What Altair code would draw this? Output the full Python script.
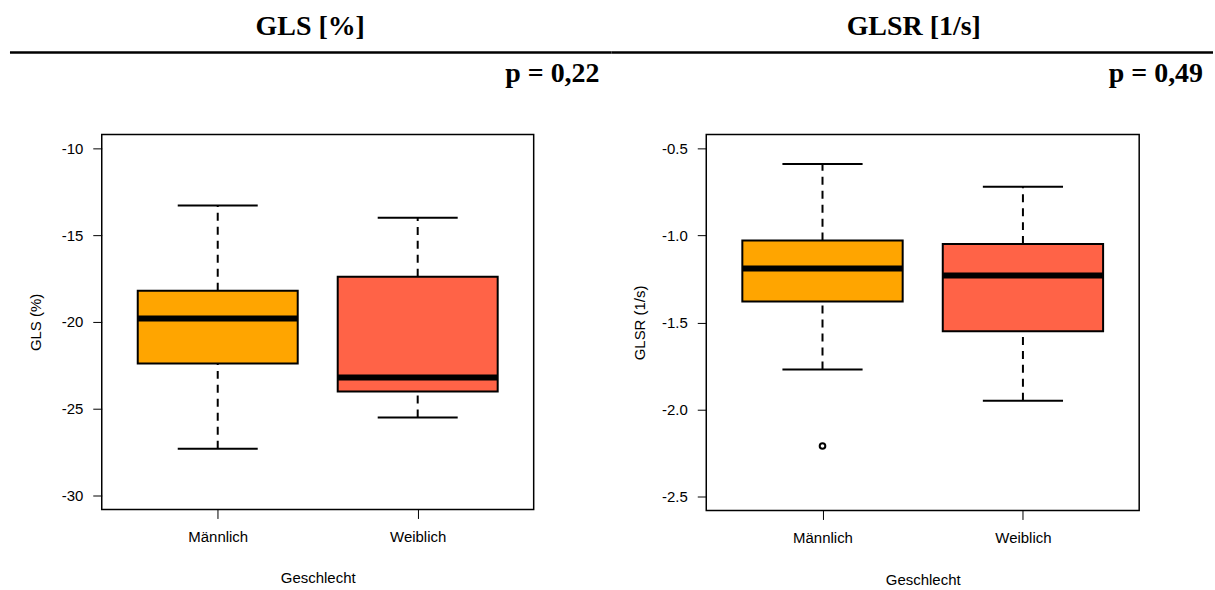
import altair as alt
import pandas as pd

# ---------------- data ----------------
groups = ["Männlich", "Weiblich"]
box_colors = ["#FFA500", "#FF6347"]

gls_lower = [-27.3, -25.5]
gls_q1 = [-22.4, -24.0]
gls_median = [-19.8, -23.2]
gls_q3 = [-18.2, -17.4]
gls_upper = [-13.3, -14.0]
gls_ticks = [-30, -25, -20, -15, -10]

glsr_lower = [-1.77, -1.95]
glsr_q1 = [-1.38, -1.55]
glsr_median = [-1.19, -1.23]
glsr_q3 = [-1.03, -1.05]
glsr_upper = [-0.59, -0.72]
glsr_outlier_group = ["Männlich"]
glsr_outlier_value = [-2.21]
glsr_ticks = [-2.5, -2.0, -1.5, -1.0, -0.5]

headers = ["GLS [%]", "GLSR [1/s]"]
p_values = ["p = 0,22", "p = 0,49"]
y_titles = ["GLS (%)", "GLSR (1/s)"]
x_title = "Geschlecht"

SANS = "Liberation Sans"
SERIF = "Liberation Serif"
label_expr = " : ".join(
    [f"datum.value == {i + 1} ? '{g}'" for i, g in enumerate(groups[:-1])]
) + f" : '{groups[-1]}'"


def panel(lower, q1, med, q3, upper, ticks, fmt, ytitle, header, ptext,
          width, height, geo, out_groups=None, out_vals=None, anchor=False):
    df = pd.DataFrame({
        "group": groups,
        "pos": [i + 1 for i in range(len(groups))],
        "lower": lower, "q1": q1, "median": med, "q3": q3, "upper": upper,
    })
    span = ticks[-1] - ticks[0]
    ydom = [ticks[0] - 0.04 * span, ticks[-1] + 0.04 * span]
    xs = alt.Scale(domain=[0.42, 2.58], nice=False, zero=False)
    ys = alt.Scale(domain=ydom, nice=False, zero=False)
    x_axis = alt.Axis(values=[1, 2], labelExpr=label_expr, title=x_title,
                      grid=False, domain=False, tickSize=9, tickColor="black",
                      tickWidth=1, labelPadding=11, labelFontSize=15,
                      labelFont=SANS, labelColor="black", titleFont=SANS,
                      titleFontSize=15, titleFontWeight="normal",
                      titleColor="black", titleY=geo["xtitle_y"],
                      titleBaseline="middle", labelAngle=0)
    y_axis = alt.Axis(values=ticks, format=fmt,
                      labelExpr="replace(datum.label, '\u2212', '-')",
                      title=ytitle, grid=False, domain=False, tickSize=9,
                      tickColor="black", tickWidth=1, labelPadding=10,
                      labelFontSize=15, labelFont=SANS, labelColor="black",
                      titleFont=SANS, titleFontSize=15,
                      titleFontWeight="normal", titleColor="black",
                      titleX=geo["ytitle_x"], titleY=height / 2,
                      titleAngle=-90, titleAlign="center",
                      titleBaseline="middle")

    base = alt.Chart(df).transform_calculate(
        xl="datum.pos - 0.4", xr="datum.pos + 0.4",
        cl="datum.pos - 0.2", cr="datum.pos + 0.2")

    X = alt.X("pos:Q", scale=xs, axis=x_axis)
    XL = alt.X("xl:Q", scale=xs, axis=x_axis)
    CL = alt.X("cl:Q", scale=xs, axis=x_axis)

    def Y(f):
        return alt.Y(f"{f}:Q", scale=ys, axis=y_axis)

    dash = dict(color="black", strokeWidth=2, strokeDash=[8, 6])
    w_low = base.mark_rule(**dash).encode(x=X, y=Y("lower"), y2="q1:Q")
    w_up = base.mark_rule(**dash).encode(x=X, y=Y("q3"), y2="upper:Q")
    cap_low = base.mark_rule(color="black", strokeWidth=2).encode(
        x=CL, x2="cr:Q", y=Y("lower"))
    cap_up = base.mark_rule(color="black", strokeWidth=2).encode(
        x=CL, x2="cr:Q", y=Y("upper"))
    box = base.mark_rect(stroke="black", strokeWidth=2).encode(
        x=XL, x2="xr:Q", y=Y("q1"), y2="q3:Q",
        fill=alt.Fill("group:N", scale=alt.Scale(domain=groups,
                                                 range=box_colors),
                      legend=None))
    median = base.mark_rule(color="black", strokeWidth=6).encode(
        x=XL, x2="xr:Q", y=Y("median"))

    layers = [w_low, w_up, cap_low, cap_up, box, median]

    if out_groups:
        odf = pd.DataFrame({
            "pos": [groups.index(g) + 1 for g in out_groups],
            "value": out_vals})
        layers.append(alt.Chart(odf).mark_point(
            shape="circle", filled=False, size=32, color="black",
            strokeWidth=2, opacity=1).encode(x=X, y=Y("value")))

    one = pd.DataFrame({"t": [header], "p": [ptext]})
    layers.append(alt.Chart(one).mark_text(
        font=SERIF, fontSize=28, fontWeight="bold", color="black",
        align="center", baseline="middle").encode(
        x=alt.value(geo["header_x"]), y=alt.value(geo["header_y"]),
        text="t:N"))
    layers.append(alt.Chart(one).mark_text(
        font=SERIF, fontSize=28, fontWeight="bold", color="black",
        align="right", baseline="middle").encode(
        x=alt.value(geo["p_x"]), y=alt.value(geo["p_y"]), text="p:N"))
    layers.append(alt.Chart(one).mark_rule(
        color="black", strokeWidth=2.5).encode(
        x=alt.value(geo["rule_l"]), x2=alt.value(geo["rule_r"]),
        y=alt.value(geo["rule_y"])))
    if anchor:
        layers.append(alt.Chart(one).mark_rule(
            color="white", strokeWidth=1, opacity=0).encode(
            x=alt.value(geo["anchor_x"]), y=alt.value(geo["anchor_y"]),
            y2=alt.value(geo["anchor_y"] + 10)))

    return alt.layer(*layers).properties(width=width, height=height)


left = panel(gls_lower, gls_q1, gls_median, gls_q3, gls_upper, gls_ticks,
             "d", y_titles[0], headers[0], p_values[0], 433, 376,
             dict(xtitle_y=68, ytitle_x=-66, header_x=209, header_y=-108,
                  p_x=499, p_y=-61, rule_l=-92, rule_r=511, rule_y=-82,
                  anchor_x=-100.5, anchor_y=-132.5),
             anchor=True)
right = panel(glsr_lower, glsr_q1, glsr_median, glsr_q3, glsr_upper,
              glsr_ticks, ".1f", y_titles[1], headers[1], p_values[1],
              434, 377,
              dict(xtitle_y=69, ytitle_x=-67, header_x=208, header_y=-108,
                   p_x=498, p_y=-61, rule_l=-95, rule_r=508, rule_y=-82),
              out_groups=glsr_outlier_group, out_vals=glsr_outlier_value)

chart = alt.hconcat(left, right, spacing=173, bounds="flush").properties(
    padding=0, background="white"
).configure_view(stroke="black", strokeWidth=1.5)

chart.save("out.html", embed_options={"renderer": "svg", "actions": False})
